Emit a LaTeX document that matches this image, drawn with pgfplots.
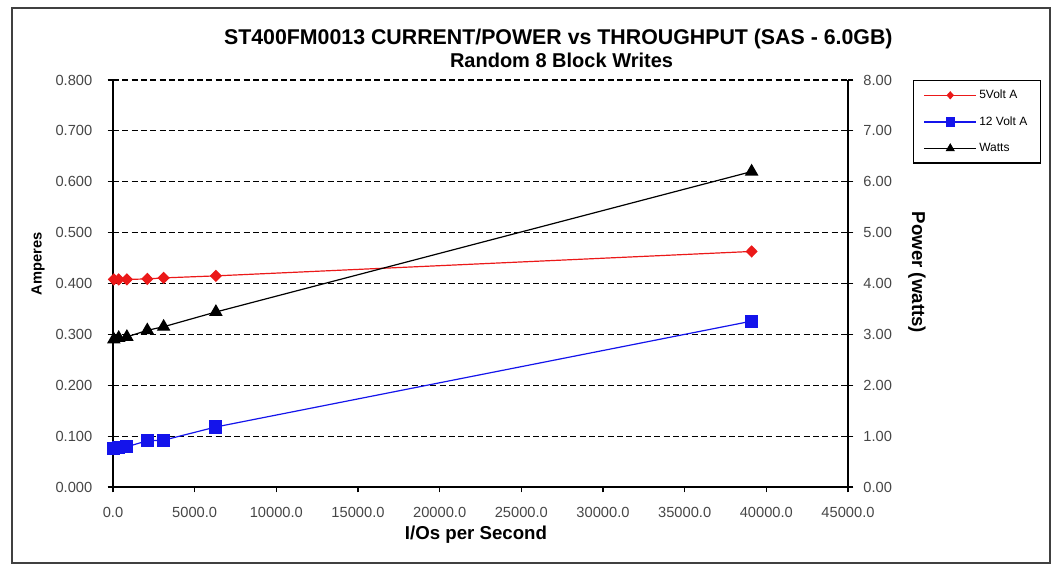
\documentclass[border=0pt]{standalone}
\usepackage{fontspec}
\setmainfont{Liberation Sans}
\usepackage{pgfplots}
\pgfplotsset{compat=1.18}
\definecolor{vred}{RGB}{235,25,25}
\definecolor{vblue}{RGB}{20,20,235}
\definecolor{ticktxt}{RGB}{70,70,70}
\begin{document}
\begin{tikzpicture}
\pgfplotsset{
  common/.style={
    at={(0pt,0pt)}, anchor=south west,
    scale only axis, width=551.25pt, height=305.25pt,
    xmin=0, xmax=45000,
    tick style={black, line width=0.8pt},
    tick align=outside, major tick length=4pt,
    axis line style={black, line width=1.2pt},
    tick label style={font=\fontsize{11}{13}\selectfont, text=ticktxt},
    /pgf/number format/assume math mode=true,
    clip=false,
  }
}
\begin{axis}[common,
  ymin=0, ymax=0.8,
  axis x line*=bottom, axis y line*=left,
  xtick={0,5000,10000,15000,20000,25000,30000,35000,40000,45000},
  ytick={0,0.1,0.2,0.3,0.4,0.5,0.6,0.7,0.8},
  scaled x ticks=false, scaled y ticks=false,
  xticklabel style={yshift=-8pt, /pgf/number format/.cd, fixed, fixed zerofill, precision=1, 1000 sep={}},
  yticklabel style={xshift=-8pt, /pgf/number format/.cd, fixed, fixed zerofill, precision=3},
  ymajorgrids,
  grid style={black, dash pattern=on 4.5pt off 2.5pt, line width=0.9pt},
]
\addplot[vred, line width=0.9pt, mark=diamond*, mark size=4pt, mark options={solid, fill=vred, draw=vred, xscale=1.3}]
  coordinates {(50,0.408) (350,0.408) (850,0.408) (2100,0.409) (3100,0.411) (6300,0.415) (39100,0.463)};
\addplot[vblue, line width=0.9pt, mark=square*, mark size=4.5pt, mark options={solid, fill=vblue, draw=vblue}]
  coordinates {(50,0.076) (350,0.077) (850,0.079) (2100,0.091) (3100,0.092) (6300,0.118) (39100,0.326)};
\end{axis}
\begin{axis}[common,
  ymin=0, ymax=8,
  axis y line*=right, axis x line=none,
  ytick={0,1,2,3,4,5,6,7,8},
  yticklabel style={xshift=4pt, /pgf/number format/.cd, fixed, fixed zerofill, precision=2},
  legend style={at={(1.088,1)}, anchor=north west, draw=black, line width=0.9pt,
    font=\fontsize{9}{10}\selectfont, row sep=8pt, inner xsep=8pt, inner ysep=5pt,
    cells={anchor=west}},
  legend image code/.code={\draw[mark repeat=2,mark phase=2] plot coordinates {(0cm,0cm) (0.68cm,0cm) (1.36cm,0cm)};},
]
\addlegendimage{vred, line width=0.8pt, mark=diamond*, mark size=2.5pt, mark options={fill=vred, xscale=1.2}}
\addlegendentry{5Volt A}
\addlegendimage{vblue, line width=0.8pt, mark=square*, mark size=3pt, mark options={fill=vblue}}
\addlegendentry{12 Volt A}
\addlegendimage{black, line width=0.8pt, mark=triangle*, mark size=3.2pt, mark options={fill=black}}
\addlegendentry{Watts}
\addplot[black, line width=0.9pt, mark=triangle*, mark size=5pt, mark options={solid, fill=black}, forget plot]
  coordinates {(50,2.90) (350,2.93) (850,2.95) (2100,3.08) (3100,3.15) (6300,3.44) (39100,6.20)};
\end{axis}
\node[font=\bfseries\fontsize{16}{19}\selectfont, anchor=base] at (334pt,331.5pt) {ST400FM0013 CURRENT/POWER vs THROUGHPUT (SAS - 6.0GB)};
\node[font=\bfseries\fontsize{15}{18}\selectfont, anchor=base] at (336.4pt,314.25pt) {Random 8 Block Writes};
\node[font=\bfseries\fontsize{11}{13}\selectfont, rotate=90] at (-56.25pt,167.25pt) {Amperes};
\node[font=\bfseries\fontsize{14}{16}\selectfont, rotate=-90] at (603pt,160.9pt) {Power (watts)};
\node[font=\bfseries\fontsize{14}{16}\selectfont] at (272.25pt,-36pt) {I/Os per Second};
\draw[black!75, line width=1.2pt] (-75.75pt,-57pt) rectangle (702.75pt,359.25pt);
\pgfresetboundingbox
\useasboundingbox (-84.75pt,-58.5pt) rectangle (708pt,365.25pt);
\end{tikzpicture}
\end{document}
